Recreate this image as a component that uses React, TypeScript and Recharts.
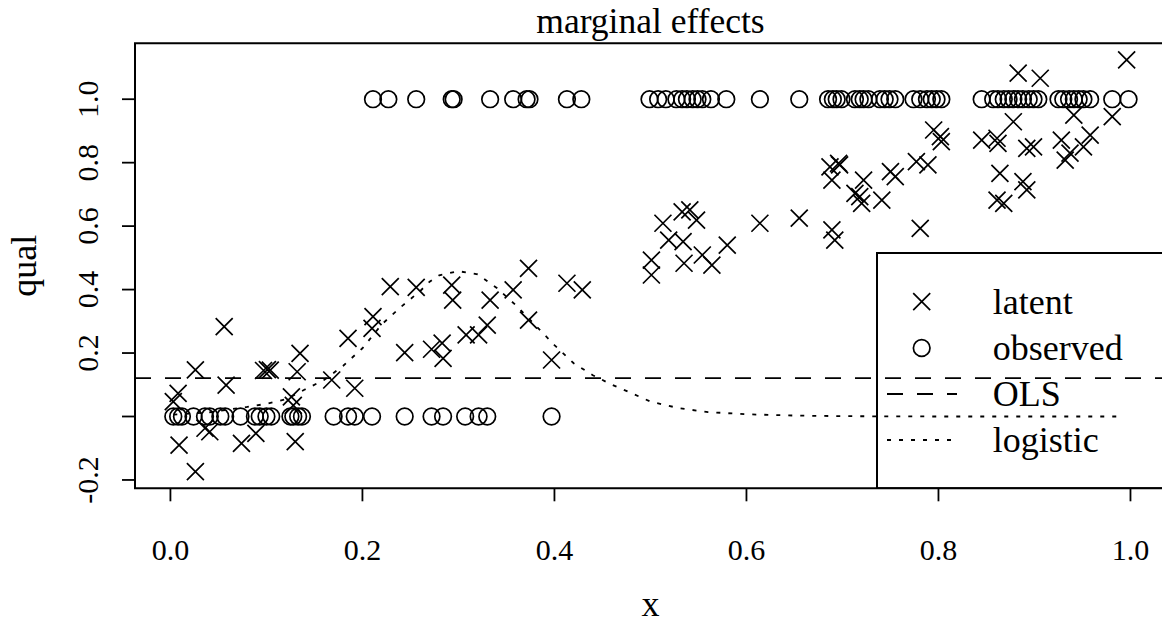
import React from 'react';
import { ScatterChart, Scatter, XAxis, YAxis, ReferenceLine, ReferenceArea, Legend } from 'recharts';

// latent values, [x, y]
const latent: [number, number][] = [
  [0.003, 0.047], [0.008, 0.073], [0.009, -0.09], [0.026, 0.147], [0.026, -0.174],
  [0.036, -0.037], [0.041, -0.048], [0.056, 0.283], [0.058, 0.099], [0.074, -0.085],
  [0.089, -0.053], [0.097, 0.145], [0.101, 0.148], [0.104, 0.146], [0.126, 0.062],
  [0.128, 0.035], [0.13, -0.079], [0.132, 0.141], [0.135, 0.199], [0.168, 0.115],
  [0.185, 0.246], [0.192, 0.089], [0.21, 0.278], [0.211, 0.315], [0.229, 0.409],
  [0.244, 0.201], [0.256, 0.407], [0.272, 0.212], [0.283, 0.231], [0.284, 0.183],
  [0.293, 0.414], [0.294, 0.367], [0.308, 0.257], [0.321, 0.257], [0.33, 0.288],
  [0.333, 0.367], [0.357, 0.399], [0.373, 0.467], [0.373, 0.304], [0.397, 0.178],
  [0.413, 0.42], [0.429, 0.399],
  [0.501, 0.493], [0.501, 0.446], [0.513, 0.609], [0.519, 0.556], [0.533, 0.645],
  [0.534, 0.551], [0.535, 0.483], [0.541, 0.651], [0.548, 0.619], [0.554, 0.509],
  [0.564, 0.477], [0.58, 0.54], [0.614, 0.609], [0.655, 0.625], [0.687, 0.787],
  [0.689, 0.745], [0.689, 0.588], [0.692, 0.556], [0.696, 0.798], [0.697, 0.793],
  [0.713, 0.703], [0.718, 0.693], [0.72, 0.672], [0.722, 0.745], [0.741, 0.682],
  [0.75, 0.772], [0.755, 0.756], [0.777, 0.803], [0.781, 0.593], [0.789, 0.793],
  [0.795, 0.903], [0.802, 0.882], [0.803, 0.866], [0.845, 0.871], [0.861, 0.877],
  [0.862, 0.861], [0.861, 0.682], [0.864, 0.766], [0.868, 0.672], [0.878, 0.929],
  [0.883, 1.082], [0.892, 0.845], [0.899, 0.85], [0.892, 0.714], [0.888, 0.74],
  [0.906, 1.066], [0.928, 0.871], [0.932, 0.808], [0.937, 0.83], [0.941, 0.95],
  [0.951, 0.85], [0.958, 0.887], [0.981, 0.945], [0.996, 1.124],
];

// observed outcome: x positions of the zeros and of the ones
const observedZeroX = [
  0.003, 0.008, 0.012, 0.024, 0.036, 0.041, 0.052, 0.057, 0.073, 0.088, 0.093, 0.1,
  0.105, 0.125, 0.128, 0.133, 0.137, 0.17, 0.185, 0.192, 0.21, 0.244, 0.272, 0.284,
  0.307, 0.321, 0.33, 0.397,
];
const observedOneX = [
  0.211, 0.227, 0.256, 0.293, 0.295, 0.333, 0.357, 0.371, 0.374, 0.413, 0.428, 0.499,
  0.508, 0.516, 0.527, 0.533, 0.538, 0.544, 0.549, 0.554, 0.563, 0.579, 0.614, 0.655,
  0.685, 0.69, 0.694, 0.699, 0.713, 0.718, 0.722, 0.727, 0.739, 0.744, 0.749, 0.755,
  0.774, 0.781, 0.788, 0.793, 0.798, 0.803, 0.845, 0.857, 0.862, 0.868, 0.873, 0.878,
  0.883, 0.888, 0.894, 0.899, 0.904, 0.925, 0.93, 0.936, 0.941, 0.946, 0.951, 0.958,
  0.981, 0.998,
];

// logistic marginal effect curve
const logisticX = [
  0.003, 0.04, 0.08, 0.1, 0.12, 0.14, 0.16, 0.18, 0.2, 0.22, 0.24, 0.26, 0.27, 0.28,
  0.3, 0.32, 0.34, 0.36, 0.38, 0.4, 0.42, 0.44, 0.46, 0.48, 0.5, 0.53, 0.56, 0.6,
  0.65, 0.7, 0.8, 0.9, 0.991,
];
const logisticY = [
  0.006, 0.013, 0.03, 0.04, 0.054, 0.085, 0.115, 0.16, 0.215, 0.29, 0.345, 0.395, 0.425,
  0.445, 0.458, 0.448, 0.405, 0.35, 0.288, 0.225, 0.168, 0.13, 0.1, 0.074, 0.047,
  0.026, 0.014, 0.007, 0.003, 0.001, 0, 0, 0,
];

// OLS marginal effect (constant)
const olsEffect = 0.121;

const xTicks = [0, 0.2, 0.4, 0.6, 0.8, 1.0];
const yTicks = [-0.2, 0, 0.2, 0.4, 0.6, 0.8, 1.0];
const legendLabels = ['latent', 'observed', 'OLS', 'logistic'];

const xDomain: [number, number] = [-0.0369, 1.037];
const yDomain: [number, number] = [-0.2263, 1.1762];

const FONT = '"Liberation Serif", "Times New Roman", serif';

const latentData = latent.map(([x, y]) => ({ x, y }));
const observedData = [
  ...observedZeroX.map((x) => ({ x, y: 0 })),
  ...observedOneX.map((x) => ({ x, y: 1 })),
];
const logisticData = logisticX.map((x, i) => ({ x, y: logisticY[i] }));

const Cross = (props: any) => {
  const { cx, cy } = props;
  const s = 8.5;
  return (
    <path
      d={`M${cx - s},${cy - s}L${cx + s},${cy + s}M${cx - s},${cy + s}L${cx + s},${cy - s}`}
      stroke="#000"
      strokeWidth={1.7}
      fill="none"
    />
  );
};

const Ring = (props: any) => (
  <circle cx={props.cx} cy={props.cy} r={8.3} stroke="#000" strokeWidth={1.7} fill="none" />
);

const NoShape = () => <g />;

const XTick = (props: any) => (
  <text x={props.x} y={560} textAnchor="middle" fontFamily={FONT} fontSize={30} fill="#000">
    {Number(props.payload.value).toFixed(1)}
  </text>
);

const YTick = (props: any) => {
  const v = Number(props.payload.value);
  if (Math.abs(v) < 1e-9) return <g />;
  return (
    <text
      transform={`translate(98,${props.y}) rotate(-90)`}
      textAnchor="middle"
      fontFamily={FONT}
      fontSize={30}
      fill="#000"
    >
      {v.toFixed(1)}
    </text>
  );
};

const LegendBox = () => {
  const rows = [49.7, 96, 142, 188];
  return (
    <svg width={300} height={237} style={{ display: 'block' }}>
      <rect x={1} y={1} width={400} height={235.3} fill="none" stroke="#000" strokeWidth={2} />
      <path d={`M${45.7 - 8.5},${rows[0] - 8.5}l17,17m-17,0l17,-17`} stroke="#000" strokeWidth={1.7} fill="none" />
      <circle cx={45.7} cy={rows[1]} r={8.3} stroke="#000" strokeWidth={1.7} fill="none" />
      <line x1={11} x2={81} y1={rows[2]} y2={rows[2]} stroke="#000" strokeWidth={1.8} strokeDasharray="16 14" />
      <line x1={11} x2={81} y1={rows[3]} y2={rows[3]} stroke="#000" strokeWidth={1.8} strokeDasharray="4 8" />
      {legendLabels.map((label, i) => (
        <text key={label} x={116.7} y={rows[i]} dominantBaseline="central" fontFamily={FONT} fontSize={36} fill="#000">
          {label}
        </text>
      ))}
    </svg>
  );
};

export default function App() {
  return (
    <div style={{ position: 'absolute', left: 0, top: 0, width: 1162, height: 626, overflow: 'hidden', background: '#fff' }}>
      <ScatterChart width={1170} height={626} margin={{ top: 43.3, right: 4, bottom: 0, left: 0 }}>
        <XAxis
          type="number"
          dataKey="x"
          domain={xDomain}
          ticks={xTicks}
          allowDataOverflow
          axisLine={false}
          tickSize={13}
          tickLine={{ stroke: '#000', strokeWidth: 1.8 }}
          tick={<XTick />}
          height={137.7}
        />
        <YAxis
          type="number"
          dataKey="y"
          domain={yDomain}
          ticks={yTicks}
          allowDataOverflow
          axisLine={false}
          tickSize={13}
          tickLine={{ stroke: '#000', strokeWidth: 1.8 }}
          tick={<YTick />}
          width={135}
        />
        <ReferenceArea
          x1={xDomain[0]}
          x2={xDomain[1]}
          y1={yDomain[0]}
          y2={yDomain[1]}
          fill="none"
          fillOpacity={0}
          stroke="#000"
          strokeWidth={2}
          ifOverflow="visible"
        />
        <ReferenceLine y={olsEffect} stroke="#000" strokeWidth={1.8} strokeDasharray="16 14" />
        <Scatter
          data={logisticData}
          shape={<NoShape />}
          line={{ stroke: '#000', strokeWidth: 1.8, strokeDasharray: '4 8' }}
          isAnimationActive={false}
        />
        <Scatter data={observedData} shape={<Ring />} isAnimationActive={false} />
        <Scatter data={latentData} shape={<Cross />} isAnimationActive={false} />
        <Legend
          layout="vertical"
          align="center"
          verticalAlign="middle"
          wrapperStyle={{ left: 876, top: 252, width: 300, height: 237 }}
          content={() => <LegendBox />}
        />
      </ScatterChart>
      <svg
        width={1162}
        height={626}
        style={{ position: 'absolute', left: 0, top: 0, pointerEvents: 'none' }}
      >
        <text x={650.5} y={33} textAnchor="middle" fontFamily={FONT} fontSize={35.5} fill="#000">
          marginal effects
        </text>
        <text x={650.5} y={616} textAnchor="middle" fontFamily={FONT} fontSize={36} fill="#000">
          x
        </text>
        <text transform="translate(36,265.8) rotate(-90)" textAnchor="middle" fontFamily={FONT} fontSize={36} fill="#000">
          qual
        </text>
      </svg>
    </div>
  );
}
